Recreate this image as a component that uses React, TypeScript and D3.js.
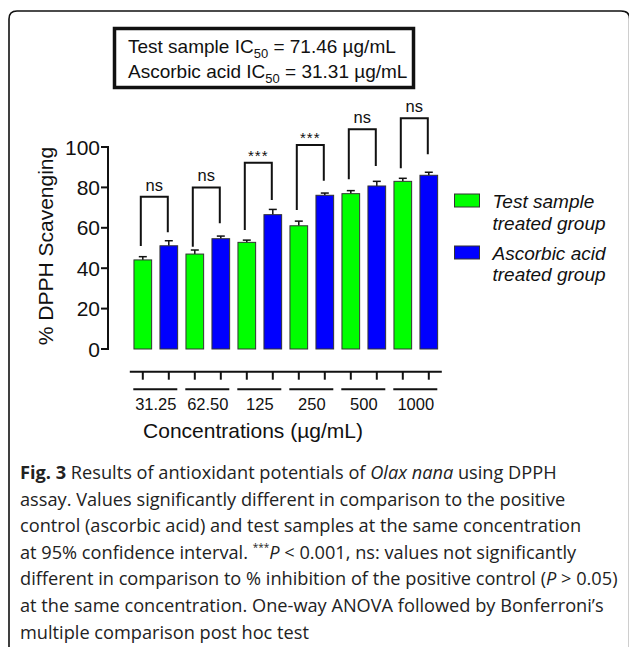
import React from 'react';
import * as d3 from 'd3';

const concentrations = ['31.25', '62.50', '125', '250', '500', '1000'];
const seriesKeys = ['test', 'ascorbic'];
const seriesLabels = [['Test sample', 'treated group'], ['Ascorbic acid', 'treated group']];
const testMeans = [44.1, 47.0, 52.8, 61.0, 76.9, 83.0];
const testErr = [1.6, 2.0, 1.1, 2.3, 1.5, 1.5];
const ascMeans = [51.1, 54.6, 66.5, 76.1, 80.7, 86.0];
const ascErr = [2.5, 1.3, 2.6, 1.1, 2.3, 1.5];
const sigLabels = ['ns', 'ns', '***', '***', 'ns', 'ns'];
const bracketTop = [75.4, 80, 92.2, 101, 108.8, 114.2];
const bracketLeftEnd = [51, 50.6, 58.9, 68.8, 84, 89.5];
const bracketRightEnd = [57.8, 62.2, 73.8, 83.3, 90.6, 96.4];
const yTicks = [0, 20, 40, 60, 80, 100];
const colors = ['#00ff00', '#0000ff'];
const yTitle = '% DPPH Scavenging';
const xTitle = 'Concentrations (\u00b5g/mL)';
const icLines = [
  ['Test sample IC', '50', ' = 71.46 \u00b5g/mL'],
  ['Ascorbic acid IC', '50', ' = 31.31 \u00b5g/mL'],
];

type Seg = { t: string; b?: boolean; i?: boolean; sup?: boolean };
const captionLines: Seg[][] = [
  [{ t: 'Fig. 3', b: true }, { t: ' Results of antioxidant potentials of ' }, { t: 'Olax nana', i: true }, { t: ' using DPPH' }],
  [{ t: 'assay. Values significantly different in comparison to the positive' }],
  [{ t: 'control (ascorbic acid) and test samples at the same concentration' }],
  [{ t: 'at 95% confidence interval. ' }, { t: '***', sup: true }, { t: 'P', i: true }, { t: ' < 0.001, ns: values not significantly' }],
  [{ t: 'different in comparison to % inhibition of the positive control (' }, { t: 'P', i: true }, { t: ' > 0.05)' }],
  [{ t: 'at the same concentration. One-way ANOVA followed by Bonferroni\u2019s' }],
  [{ t: 'multiple comparison post hoc test' }],
];

const ARIAL = '"Liberation Sans", Arial, Helvetica, sans-serif';
const CAPFONT = '"Open Sans", "Noto Sans", sans-serif';

export default function App() {
  const W = 629, H = 647;
  const x0 = d3.scaleBand<string>().domain(concentrations).range([129.8, 441.8]).padding(0);
  const x1 = d3.scaleBand<string>().domain(seriesKeys).range([0, x0.bandwidth()]).paddingInner(0.32).paddingOuter(0.16);
  const y = d3.scaleLinear().domain([0, 100]).range([349, 147]);
  const bw = x1.bandwidth();
  const means = [testMeans, ascMeans];
  const errs = [testErr, ascErr];
  const axisX = 108;
  const xAxisY = 371.7;
  const groupLineY = 389.3;

  const barCenter = (ci: number, si: number) => (x0(concentrations[ci]) as number) + (x1(seriesKeys[si]) as number) + bw / 2;

  return (
    <svg width={W} height={H} style={{ position: 'absolute', left: 0, top: 0, background: '#fff' }}>
      <rect x={0} y={0} width={W} height={H} fill="#fff" />
      {/* outer frame */}
      <path d="M 9 680 V 19 Q 9 11 17 11 H 621 Q 629.6 11 629.6 19 V 680" fill="none" stroke="#111" strokeWidth={1.6} />

      {/* IC50 box */}
      <rect x={114.5} y={28.5} width={299} height={59} fill="#fff" stroke="#111" strokeWidth={3.5} />
      {icLines.map((ln, i) => (
        <text key={i} x={128} y={53 + i * 25.3} fontFamily={ARIAL} fontSize={19} fill="#111">
          {ln[0]}
          <tspan fontSize={13} dy={5}>{ln[1]}</tspan>
          <tspan dy={-5}>{ln[2]}</tspan>
        </text>
      ))}

      {/* y axis */}
      <line x1={axisX} x2={axisX} y1={y(0) + 1} y2={y(100) - 1} stroke="#111" strokeWidth={2} />
      {yTicks.map(t => (
        <g key={t}>
          <line x1={axisX - 7} x2={axisX} y1={y(t)} y2={y(t)} stroke="#111" strokeWidth={2} />
          <text x={100} y={y(t)} dy="0.36em" textAnchor="end" fontFamily={ARIAL} fontSize={21} fill="#111">{t}</text>
        </g>
      ))}
      <text transform={`translate(53,246) rotate(-90)`} textAnchor="middle" fontFamily={ARIAL} fontSize={21} fill="#111">{yTitle}</text>

      {/* bars */}
      {concentrations.map((c, ci) => (
        <g key={c}>
          {seriesKeys.map((s, si) => {
            const v = means[si][ci];
            const e = errs[si][ci];
            const bx = (x0(c) as number) + (x1(s) as number);
            const cx = bx + bw / 2;
            return (
              <g key={s}>
                <line x1={cx} x2={cx} y1={y(v)} y2={y(v + e)} stroke="#111" strokeWidth={1.5} />
                <line x1={cx - 4} x2={cx + 4} y1={y(v + e)} y2={y(v + e)} stroke="#111" strokeWidth={1.5} />
                <rect x={bx} y={y(v)} width={bw} height={y(0) - y(v)} fill={colors[si]} stroke="#333" strokeWidth={1} />
              </g>
            );
          })}
        </g>
      ))}

      {/* significance brackets */}
      {concentrations.map((c, ci) => {
        const lx = barCenter(ci, 0) - 2;
        const rx = barCenter(ci, 1) - 1;
        const ty = y(bracketTop[ci]);
        const isStar = sigLabels[ci] === '***';
        return (
          <g key={c}>
            <path d={`M ${lx} ${y(bracketLeftEnd[ci])} V ${ty} H ${rx} V ${y(bracketRightEnd[ci])}`} fill="none" stroke="#111" strokeWidth={2} />
            <text x={(lx + rx) / 2} y={isStar ? ty - 1.5 : ty - 6} textAnchor="middle" fontFamily={ARIAL} fontSize={isStar ? 15 : 16.5} letterSpacing={isStar ? 1 : 0} fill="#111">{sigLabels[ci]}</text>
          </g>
        );
      })}

      {/* x axis */}
      <line x1={x0.range()[0]} x2={x0.range()[1]} y1={xAxisY} y2={xAxisY} stroke="#111" strokeWidth={2} />
      {concentrations.map((c, ci) => (
        <g key={c}>
          {seriesKeys.map((s, si) => (
            <line key={s} x1={barCenter(ci, si)} x2={barCenter(ci, si)} y1={xAxisY} y2={xAxisY + 8} stroke="#111" strokeWidth={2} />
          ))}
          <line x1={(x0(c) as number) + 3.5} x2={(x0(c) as number) + x0.bandwidth() - 4.5} y1={groupLineY} y2={groupLineY} stroke="#111" strokeWidth={2} />
          <text x={(x0(c) as number) + x0.bandwidth() / 2} y={409.5} textAnchor="middle" fontFamily={ARIAL} fontSize={16.5} fill="#111">{c}</text>
        </g>
      ))}
      <text x={253} y={438} textAnchor="middle" fontFamily={ARIAL} fontSize={21} fill="#111">{xTitle}</text>

      {/* legend */}
      {seriesKeys.map((s, si) => (
        <g key={s}>
          <rect x={454.5} y={194 + si * 52} width={25} height={13} fill={colors[si]} stroke="#333" strokeWidth={1} />
          {seriesLabels[si].map((t, li) => (
            <text key={li} x={492.5} y={208.3 + si * 51.2 + li * 21.2} fontFamily={ARIAL} fontStyle="italic" fontSize={19} fill="#111">{t}</text>
          ))}
        </g>
      ))}

      {/* caption */}
      {captionLines.map((segs, li) => (
        <text key={li} x={20} y={479 + li * 26.6} fontFamily={CAPFONT} fontSize={18.2} fill="#222">
          {segs.map((sg, k) => {
            const prevSup = k > 0 && segs[k - 1].sup;
            return (
              <tspan key={k}
                fontWeight={sg.b ? 700 : 400}
                fontStyle={sg.i ? 'italic' : 'normal'}
                fontSize={sg.sup ? 10 : undefined}
                dy={sg.sup ? -8 : prevSup ? 8 : undefined}>{sg.t}</tspan>
            );
          })}
        </text>
      ))}
    </svg>
  );
}
